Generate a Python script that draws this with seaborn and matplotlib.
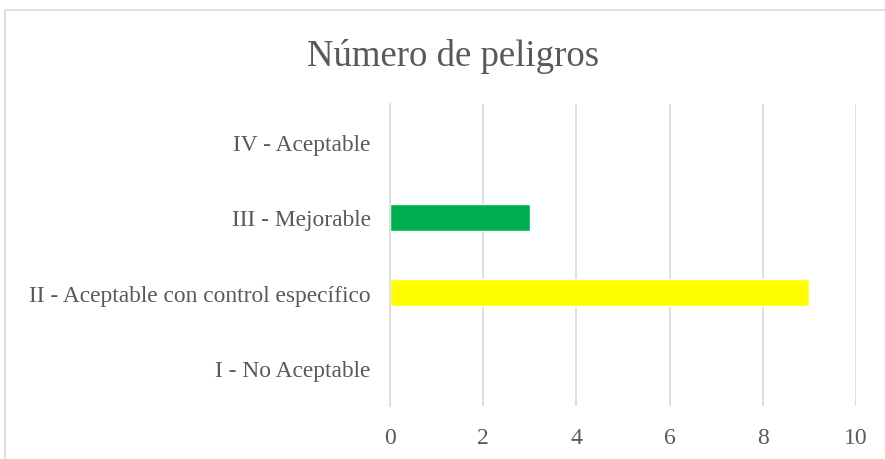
import matplotlib
matplotlib.use("Agg")
import matplotlib.pyplot as plt
import seaborn as sns
import pandas as pd
from matplotlib.patches import Rectangle

# Chart data
categorias = ["IV - Aceptable", "III - Mejorable",
              "II - Aceptable con control específico", "I - No Aceptable"]
peligros = [0, 3, 9, 0]
colores = ["#5B9BD5", "#00B050", "#FFFF00", "#FF0000"]
xticks = [0, 2, 4, 6, 8, 10]

df = pd.DataFrame({"categoria": categorias, "peligros": peligros})

sns.set_theme(style="white")
plt.rcParams['font.family'] = ['Liberation Serif', 'DejaVu Serif']
texto = "#595959"

fig = plt.figure(figsize=(8.85, 4.6), dpi=100)
ax = fig.add_axes([0.4407, 0.115, 0.5266, 0.657])

sns.barplot(data=df, x="peligros", y="categoria", hue="categoria",
            order=categorias, palette=dict(zip(categorias, colores)),
            orient="h", width=0.36, saturation=1, legend=False, ax=ax)

ax.set_xlim(0, 10)
ax.set_xticks(xticks)
ax.set_xlabel("")
ax.set_ylabel("")
ax.grid(axis="x", color="#D9D9D9", linewidth=1.2)
ax.set_axisbelow(True)
for s in ["top", "right", "bottom"]:
    ax.spines[s].set_visible(False)
ax.spines["left"].set_color("#D9D9D9")
ax.spines["left"].set_linewidth(1.2)
ax.tick_params(axis="both", length=0, colors=texto)
ax.tick_params(axis="y", pad=14, labelsize=16.8)
ax.tick_params(axis="x", pad=15, labelsize=17)

fig.text(0.512, 0.878, "Número de peligros", ha="center", va="center",
         fontsize=26.5, color=texto)

# chart area border
fig.patches.append(Rectangle((5 / 885, -0.1), 1.2, 1.1 - 11 / 460,
                             transform=fig.transFigure, fill=False,
                             edgecolor="#D9D9D9", linewidth=1.2))

fig.savefig("out.png", dpi=100)
